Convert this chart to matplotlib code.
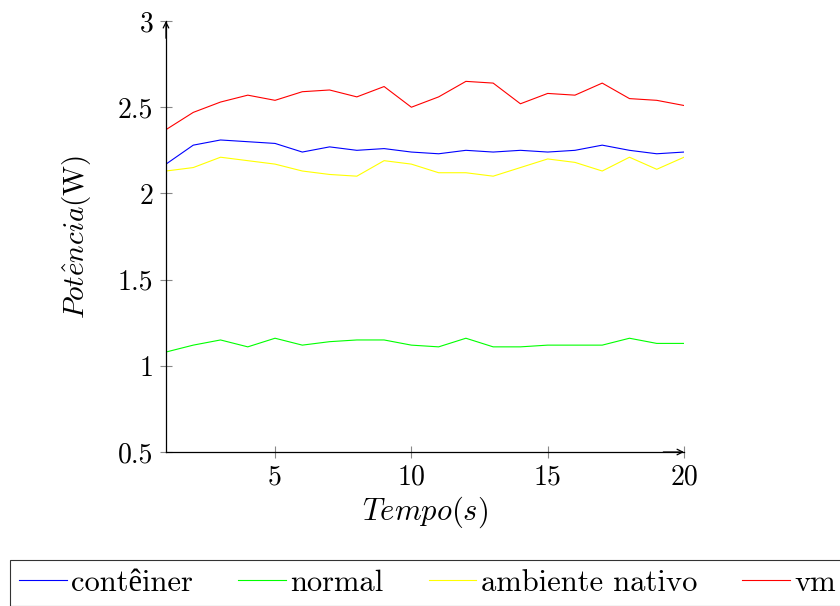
import numpy as np
import matplotlib
matplotlib.use("Agg")
import matplotlib.pyplot as plt
from matplotlib.ticker import FuncFormatter

plt.rcParams['font.family'] = 'serif'
plt.rcParams['font.serif'] = ['cmr10']
plt.rcParams['mathtext.fontset'] = 'cm'
plt.rcParams['axes.formatter.use_mathtext'] = True

# Datos (tiempo en s, potencia en W)
tempo = list(range(1, 21))
conteiner = [2.17, 2.28, 2.31, 2.30, 2.29, 2.24, 2.27, 2.25, 2.26, 2.24,
             2.23, 2.25, 2.24, 2.25, 2.24, 2.25, 2.28, 2.25, 2.23, 2.24]
normal = [1.08, 1.12, 1.15, 1.11, 1.16, 1.12, 1.14, 1.15, 1.15, 1.12,
          1.11, 1.16, 1.11, 1.11, 1.12, 1.12, 1.12, 1.16, 1.13, 1.13]
nativo = [2.13, 2.15, 2.21, 2.19, 2.17, 2.13, 2.11, 2.10, 2.19, 2.17,
          2.12, 2.12, 2.10, 2.15, 2.20, 2.18, 2.13, 2.21, 2.14, 2.21]
vm = [2.37, 2.47, 2.53, 2.57, 2.54, 2.59, 2.60, 2.56, 2.62, 2.50,
      2.56, 2.65, 2.64, 2.52, 2.58, 2.57, 2.64, 2.55, 2.54, 2.51]

series = [(conteiner, 'contêiner', '#0000ff'),
          (normal, 'normal', '#00ff00'),
          (nativo, 'ambiente nativo', '#ffff00'),
          (vm, 'vm', '#ff0000')]

fig = plt.figure(figsize=(8.4, 6.06), dpi=100)
ax = fig.add_axes([0.1976, 0.2541, 0.6167, 0.7112])

for valores, nombre, color in series:
    ax.plot(tempo, valores, color=color, linewidth=0.8, label=nombre)

ax.set_xlim(1, 20)
ax.set_ylim(0.5, 3)
ax.set_xticks([5, 10, 15, 20])
ax.set_yticks([0.5, 1, 1.5, 2, 2.5, 3])
ax.yaxis.set_major_formatter(FuncFormatter(lambda v, p: f"{v:g}"))
ax.xaxis.set_major_formatter(FuncFormatter(lambda v, p: f"{v:g}"))

for lado in ['top', 'right']:
    ax.spines[lado].set_visible(False)
for lado in ['left', 'bottom']:
    ax.spines[lado].set_linewidth(0.9)
ax.tick_params(direction='inout', length=8, width=0.8, color='#888888',
               labelsize=20, pad=5)

# flechas de los ejes
ax.annotate('', xy=(1, 0), xytext=(0.96, 0), xycoords='axes fraction',
            arrowprops=dict(arrowstyle='->', lw=0.9, color='black',
                            shrinkA=0, shrinkB=0))
ax.annotate('', xy=(0, 1), xytext=(0, 0.96), xycoords='axes fraction',
            arrowprops=dict(arrowstyle='->', lw=0.9, color='black',
                            shrinkA=0, shrinkB=0))

ax.set_xlabel(r'$Tempo(s)$', fontsize=22, labelpad=3)
ax.set_ylabel(r'$Pot\hat{e}ncia(\mathrm{W})$', fontsize=21, labelpad=18)

leg = fig.legend(loc='upper left', bbox_to_anchor=(10 / 840, 1 - 560 / 606),
                 ncol=4, frameon=True, fancybox=False,
                 prop={'family': ['cmr10', 'Liberation Serif'], 'size': 22},
                 handlelength=1.55, handletextpad=0.16, columnspacing=1.47,
                 borderaxespad=0, borderpad=0.3)
leg.get_frame().set_edgecolor('black')
leg.get_frame().set_linewidth(0.8)

plt.savefig('out.png', dpi=100)
